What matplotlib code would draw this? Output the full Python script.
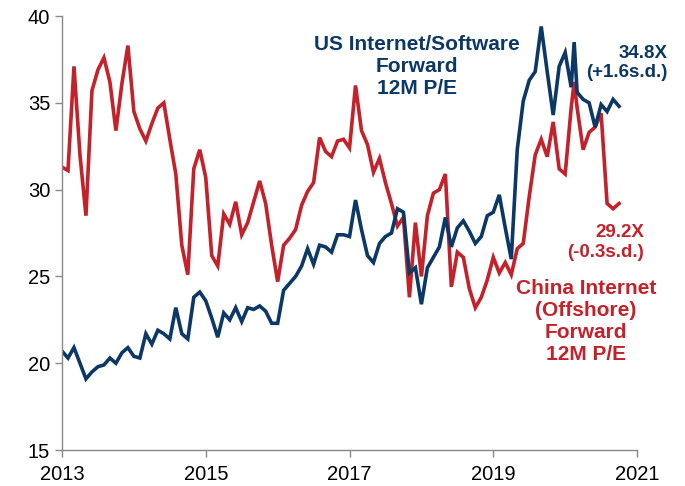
import numpy as np
import matplotlib.pyplot as plt

plt.rcParams['font.family'] = ['Liberation Sans', 'DejaVu Sans']

# month index from Jan 2013 (one extra mid-month point in Feb 2020)
months = list(range(0, 86)) + [85.5] + list(range(86, 94))

us_pe = [20.7, 20.3, 20.9, 20.0, 19.1, 19.5, 19.8, 19.9, 20.3, 20.0,
         20.6, 20.9, 20.4, 20.3, 21.7, 21.1, 21.9, 21.7, 21.4, 23.2,
         21.7, 21.4, 23.8, 24.1, 23.6, 22.6, 21.5, 22.9, 22.5, 23.2,
         22.4, 23.2, 23.1, 23.3, 23.0, 22.3, 22.3, 24.2, 24.6, 25.0,
         25.6, 26.6, 25.7, 26.8, 26.7, 26.4, 27.4, 27.4, 27.3, 29.4,
         27.7, 26.2, 25.8, 26.9, 27.3, 27.5, 28.9, 28.7, 25.2, 25.5,
         23.4, 25.5, 26.1, 26.7, 28.4, 26.7, 27.8, 28.2, 27.6, 26.9,
         27.3, 28.5, 28.7, 29.7, 27.8, 26.0, 32.3, 35.1, 36.3, 36.8,
         39.4, 36.8, 34.3, 37.1, 37.9, 35.9, 38.5, 35.6, 35.2, 35.0,
         33.6, 34.9, 34.5, 35.2, 34.8]

china_pe = [31.3, 31.1, 37.1, 32.0, 28.5, 35.7, 36.9, 37.6, 36.2, 33.4,
            36.1, 38.3, 34.5, 33.5, 32.8, 33.8, 34.7, 35.0, 32.9, 30.9,
            26.8, 25.1, 31.2, 32.3, 30.7, 26.2, 25.6, 28.6, 28.0, 29.3,
            27.4, 28.1, 29.3, 30.5, 29.2, 26.8, 24.7, 26.8, 27.2, 27.7,
            29.1, 29.9, 30.4, 33.0, 32.2, 31.9, 32.8, 32.9, 32.4, 36.0,
            33.4, 32.6, 31.0, 31.8, 30.4, 29.2, 27.9, 28.4, 23.8, 28.1,
            25.0, 28.5, 29.8, 30.0, 30.9, 24.4, 26.4, 26.1, 24.3, 23.2,
            23.8, 24.8, 26.1, 25.2, 25.8, 25.1, 26.6, 26.9, 29.6, 32.0,
            32.9, 31.9, 33.9, 31.2, 30.9, 34.7, 36.2, 34.7, 32.3, 33.3,
            33.6, 34.4, 29.2, 28.9, 29.2]

x = 2013 + np.array(months) / 12.0

navy = '#0C3866'
red = '#C4212B'

fig = plt.figure(figsize=(6.85, 4.86), dpi=100)
ax = fig.add_axes([0.0905, 0.074, 0.8395, 0.893])

ax.plot(x, china_pe, color=red, linewidth=2.6, solid_joinstyle='miter')
ax.plot(x, us_pe, color=navy, linewidth=2.6, solid_joinstyle='miter')

ax.set_xlim(2013, 2021)
ax.set_ylim(15, 40)
ax.set_xticks([2013, 2015, 2017, 2019, 2021])
ax.set_yticks([15, 20, 25, 30, 35, 40])
ax.tick_params(axis='both', labelsize=14.5, color='#888888', length=5, width=1, direction='out')
ax.tick_params(axis='x', pad=6)
for s in ['top', 'right']:
    ax.spines[s].set_visible(False)
for s in ['left', 'bottom']:
    ax.spines[s].set_color('#888888')
    ax.spines[s].set_linewidth(1)

# annotations
ax.text(2017.94, 37.12, 'US Internet/Software\nForward\n12M P/E', color=navy,
        fontsize=15, fontweight='bold', ha='center', va='center', linespacing=1.2)
ax.text(2021.43, 37.29, '34.8X\n(+1.6s.d.)', color=navy, multialignment='right',
        fontsize=13.5, fontweight='bold', ha='right', va='center', linespacing=1.2)
ax.text(2021.1, 26.95, '29.2X\n(-0.3s.d.)', color=red, multialignment='right',
        fontsize=13.5, fontweight='bold', ha='right', va='center', linespacing=1.2)
ax.text(2020.29, 22.43, 'China Internet\n(Offshore)\nForward\n12M P/E', color=red,
        fontsize=15, fontweight='bold', ha='center', va='center', linespacing=1.2)

fig.savefig('out.png', dpi=100)
